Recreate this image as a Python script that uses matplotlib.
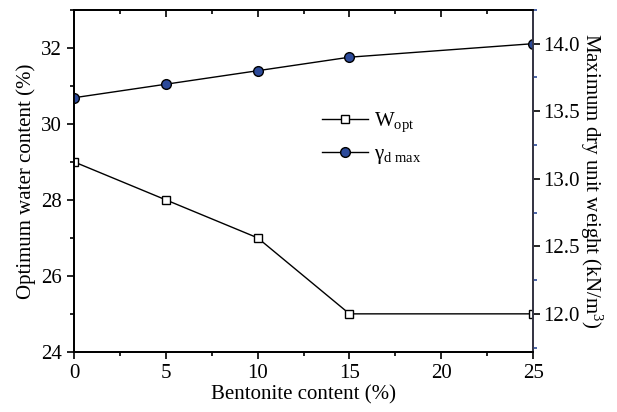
import matplotlib
matplotlib.use("Agg")
import matplotlib.pyplot as plt
from matplotlib.ticker import MultipleLocator, NullFormatter

plt.rcParams["font.family"] = ["Liberation Serif", "DejaVu Serif"]
plt.rcParams["mathtext.fontset"] = "custom"
plt.rcParams["mathtext.rm"] = "Liberation Serif"
plt.rcParams["mathtext.it"] = "Liberation Serif"

# data
bentonite = [0, 5, 10, 15, 25]
w_opt = [29, 28, 27, 25, 25]
gamma_dmax = [13.6, 13.7, 13.8, 13.9, 14.0]

x_ticks = [0, 5, 10, 15, 20, 25]
left_ticks = [24, 26, 28, 30, 32]
right_ticks = [12.0, 12.5, 13.0, 13.5, 14.0]

blue = "#2c4a9a"
fs = 15

fig = plt.figure(figsize=(6.17, 4.12), dpi=100)
ax = fig.add_axes([0.12, 0.146, 0.744, 0.83])
ax2 = ax.twinx()

l1, = ax.plot(bentonite, w_opt, color="black", lw=1, marker="s", ms=6,
              mfc="white", mec="black", mew=1, label=r"W$_{\mathrm{opt}}$")
l2, = ax2.plot(bentonite, gamma_dmax, color="black", lw=1, marker="o", ms=7,
               mfc=blue, mec="black", mew=1, label=r"$\gamma_{\mathrm{d\ max}}$")

ax.set_xlim(0, 25)
ax.set_ylim(24, 33)
ax2.set_ylim(11.72, 14.25)

ax.set_xticks(x_ticks)
ax.set_yticks(left_ticks)
ax.xaxis.set_minor_locator(MultipleLocator(2.5))
ax.yaxis.set_minor_locator(MultipleLocator(1))
ax2.set_yticks(right_ticks)
ax2.set_yticklabels([f"{v:.1f}" for v in right_ticks])
ax2.yaxis.set_minor_locator(MultipleLocator(0.25))

ax.tick_params(axis="both", which="both", labelsize=fs, width=1.2)
ax.tick_params(axis="both", which="major", length=5)
ax.tick_params(axis="both", which="minor", length=3)
ax2.tick_params(axis="y", which="major", labelsize=fs, length=5, width=1.2, pad=2)
ax2.tick_params(axis="y", which="minor", length=3, width=1.2, color=blue)

# top ticks point inward: reuse the twin's shared x axis
ax2.xaxis.set_visible(True)
ax2.tick_params(axis="x", which="both", bottom=False, top=True,
                labelbottom=False, labeltop=False, direction="in", width=1.2)
ax2.tick_params(axis="x", which="major", length=5)
ax2.tick_params(axis="x", which="minor", length=3)

for s in ax.spines.values():
    s.set_linewidth(1.3)
for s in ax2.spines.values():
    s.set_linewidth(1.3)
ax2.spines["right"].set_color("#3a3a4a")

ax.set_xlabel("Bentonite content (%)", fontsize=fs, labelpad=2)
ax.set_ylabel("Optimum water content (%)", fontsize=fs, labelpad=4)
ax2.set_ylabel("Maximum dry unit weight (kN/m$^3$)", fontsize=fs,
               rotation=270, labelpad=18)

ax.legend([l1, l2], [l1.get_label(), l2.get_label()], frameon=False,
          fontsize=fs, loc="upper left", bbox_to_anchor=(0.5, 0.76),
          handlelength=2.2, labelspacing=0.5, handletextpad=0.3)

fig.savefig("out.png", dpi=100)
